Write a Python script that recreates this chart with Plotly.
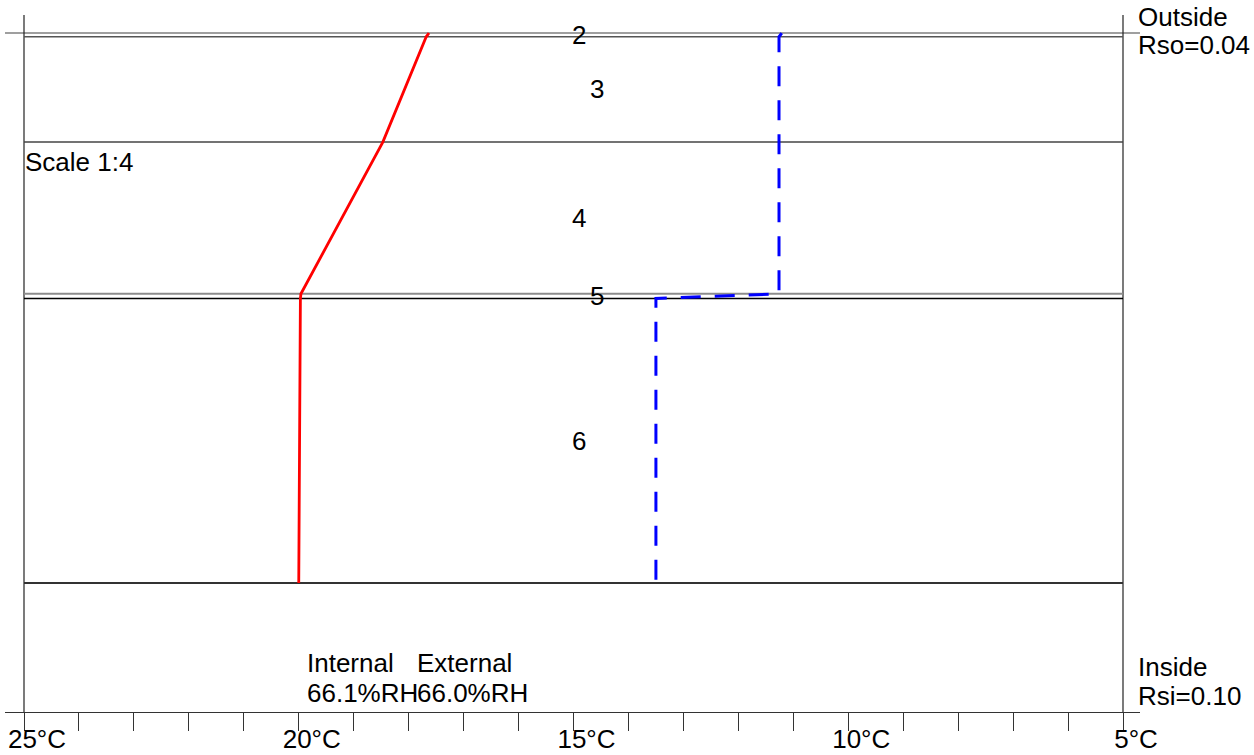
import plotly.graph_objects as go
import numpy as np

# ---- data ----
layer_names = ["2", "3", "4", "5", "6"]
layer_thickness_mm = [4, 111, 160, 5, 300]
boundary_temp = [17.63, 17.68, 18.47, 19.96, 19.97, 20.0]      # red line, °C at each boundary
boundary_dewpoint = [11.21, 11.26, 11.26, 11.26, 13.50, 13.50]  # blue dashed line, °C
boundary_colors = ["#7f7f7f", "#555555", "#444444", "#8c8c8c", "#000000", "#333333"]
tick_values = [25, 20, 15, 10, 5]
tick_labels = ["25°C", "20°C", "15°C", "10°C", "5°C"]
outside_label = ["Outside", "Rso=0.04"]
inside_label = ["Inside", "Rsi=0.10"]
scale_label = "Scale 1:4"
internal_label = ["Internal", "66.1%RH"]
external_label = ["External", "66.0%RH"]

depths = np.concatenate([[0], np.cumsum(layer_thickness_mm)])
centers = (depths[:-1] + depths[1:]) / 2

FONT = "Arial, Liberation Sans, sans-serif"
W, H = 1254, 755
ML, MR, MT, MB = 5, 114, 15, 43

fig = go.Figure()
fig.add_trace(go.Scatter(x=boundary_temp, y=depths, mode="lines",
                         line=dict(color="#ff0000", width=2.8), showlegend=False,
                         hoverinfo="skip"))
fig.add_trace(go.Scatter(x=boundary_dewpoint, y=depths, mode="lines",
                         line=dict(color="#0000ff", width=3, dash="20px,14px"),
                         showlegend=False, hoverinfo="skip"))

shapes = []
for i, (d, c) in enumerate(zip(depths, boundary_colors)):
    if i == 0:
        shapes.append(dict(type="line", xref="paper", yref="y", x0=0, x1=1, y0=d, y1=d,
                           line=dict(color=c, width=1.5), layer="below"))
    else:
        shapes.append(dict(type="line", xref="x", yref="y", x0=25, x1=5, y0=d, y1=d,
                           line=dict(color=c, width=2 if i in (3, 5) else 1.5), layer="below"))
for xv in (25, 5):
    shapes.append(dict(type="line", xref="x", yref="paper", x0=xv, x1=xv, y0=0, y1=1,
                       line=dict(color="#222222", width=1.2), layer="below"))

def py(p):
    # pixel row -> paper y
    return (H - MB - p) / (H - MT - MB)

def px(p):
    return (p - ML) / (W - ML - MR)

ann = []
fs = 26
def txt(t, xpix, ypix):
    ann.append(dict(text=t, xref="paper", yref="paper", x=px(xpix), y=py(ypix),
                    xanchor="left", yanchor="middle", showarrow=False,
                    font=dict(family=FONT, size=fs, color="#000000")))

txt(outside_label[0], 1136, 17)
txt(outside_label[1], 1136, 45)
txt(inside_label[0], 1136, 667)
txt(inside_label[1], 1136, 696)
txt(scale_label, 23, 162)
txt(internal_label[0], 305, 663)
txt(internal_label[1], 305, 693)
txt(external_label[0], 415, 663)
txt(external_label[1], 415, 693)

for i, (name, c) in enumerate(zip(layer_names, centers)):
    ann.append(dict(text=name, xref="x", yref="y", x=15, y=c, xshift=5 if i % 2 == 0 else 23,
                    xanchor="center", yanchor="middle", showarrow=False,
                    font=dict(family=FONT, size=fs, color="#000000")))

fig.update_layout(
    width=W, height=H,
    margin=dict(l=ML, r=MR, t=MT, b=MB, pad=0, autoexpand=False),
    paper_bgcolor="white", plot_bgcolor="white",
    shapes=shapes, annotations=ann,
    xaxis=dict(range=[25 + 19 / 54.95, 5 - 17 / 54.95], tickmode="array",
               tickvals=tick_values, ticktext=tick_labels,
               ticks="outside", ticklen=18, tickcolor="#333333", tickwidth=1,
               minor=dict(dtick=1, ticks="outside", ticklen=18, tickcolor="#333333", tickwidth=1,
                          showgrid=False),
               showline=True, linecolor="#333333", linewidth=1, showgrid=False, zeroline=False,
               tickfont=dict(family=FONT, size=fs, color="#000000"), automargin=False,
               ticklabelstandoff=-14, ticklabelshift=-13, fixedrange=True),
    yaxis=dict(range=[716, -19], visible=False, showgrid=False, zeroline=False, fixedrange=True),
    font=dict(family=FONT),
)

fig.write_html("out.html", config={"displayModeBar": False})

# remove default page margin so the figure sits at the page's top-left corner
with open("out.html", "r", encoding="utf-8") as f:
    html = f.read()
html = html.replace("<head>", "<head><style>html,body{margin:0;padding:0;overflow:hidden;}</style>", 1)
with open("out.html", "w", encoding="utf-8") as f:
    f.write(html)
